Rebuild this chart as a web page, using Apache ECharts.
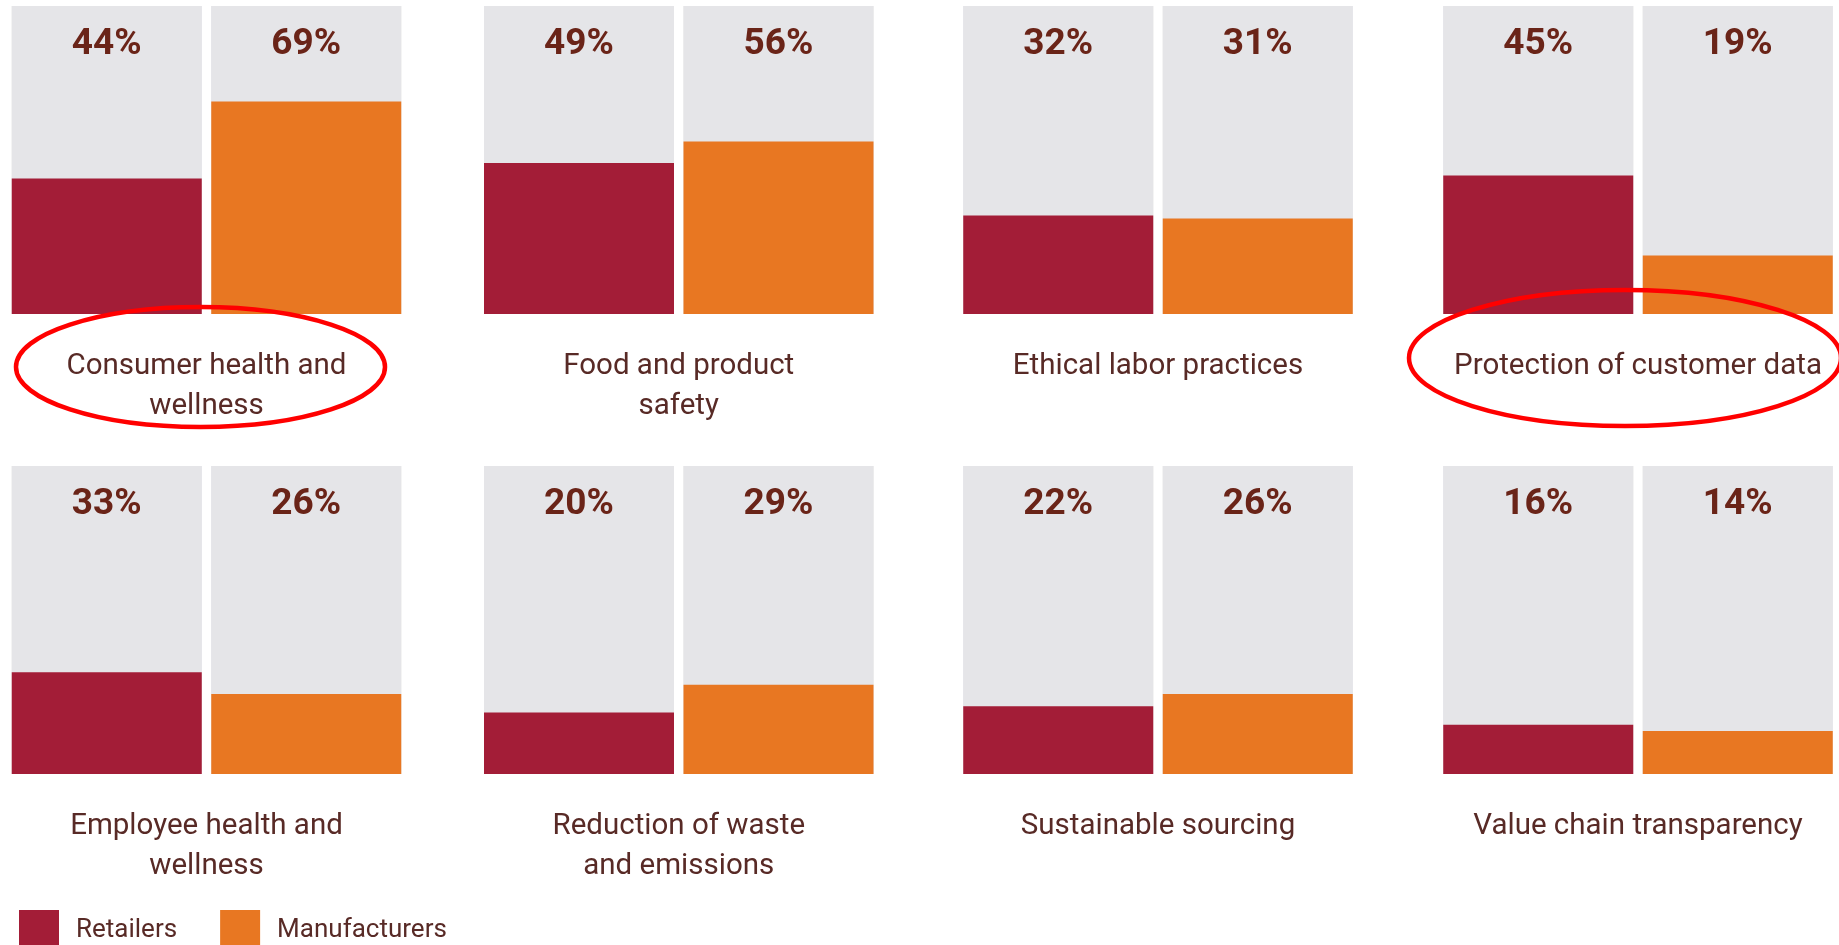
<!DOCTYPE html>
<html>
<head>
<meta charset="utf-8">
<script src="https://cdn.jsdelivr.net/npm/echarts@6/dist/echarts.min.js"></script>
<style>
  html, body { margin: 0; padding: 0; background: #ffffff; }
  #chart { width: 1839px; height: 945px; }
</style>
</head>
<body>
<div id="chart"></div>
<script>
// ---- Data ----
const categories = [
  'Consumer health and\nwellness',
  'Food and product\nsafety',
  'Ethical labor practices',
  'Protection of customer data',
  'Employee health and\nwellness',
  'Reduction of waste\nand emissions',
  'Sustainable sourcing',
  'Value chain transparency'
];
const seriesNames = ['Retailers', 'Manufacturers'];
const retailers = [44, 49, 32, 45, 33, 20, 22, 16];
const manufacturers = [69, 56, 31, 19, 26, 29, 26, 14];

// ---- Styling / layout ----
const RED = '#a31d37';
const ORANGE = '#e87722';
const GRAY = '#e5e5e8';
const PCT_COLOR = '#6a2418';
const TEXT_COLOR = '#582a26';
const colLeft = [7, 479.25, 958.5, 1438.5];
const rowTop = [6, 466];
const gridW = 399, gridH = 308;

const chart = echarts.init(document.getElementById('chart'), null, { renderer: 'canvas' });

const grid = [], xAxis = [], yAxis = [], series = [];
categories.forEach((cat, i) => {
  const col = i % 4, row = Math.floor(i / 4);
  grid.push({ left: colLeft[col], top: rowTop[row], width: gridW, height: gridH, containLabel: false });
  // bottom axis carries the category name
  xAxis.push({
    type: 'category', gridIndex: i, data: seriesNames, position: 'bottom',
    axisLine: { show: false }, axisTick: { show: false }, axisLabel: { show: false },
    name: cat, nameLocation: 'middle', nameGap: 33,
    nameTextStyle: { fontFamily: 'Roboto', fontSize: 29.5, color: TEXT_COLOR, lineHeight: 40, verticalAlign: 'top' }
  });
  // top axis carries the percentage labels
  xAxis.push({
    type: 'category', gridIndex: i, position: 'top', z: 10,
    data: [retailers[i] + '%', manufacturers[i] + '%'],
    axisLine: { show: false }, axisTick: { show: false },
    axisLabel: { inside: true, margin: 20, fontFamily: 'Roboto', fontWeight: 'bold', fontSize: 37, color: PCT_COLOR }
  });
  yAxis.push({ type: 'value', gridIndex: i, min: 0, max: 100, show: false });
  series.push({
    name: seriesNames[0], type: 'bar', xAxisIndex: 2 * i, yAxisIndex: i,
    data: [retailers[i], '-'], barWidth: 190, barGap: '-100%',
    itemStyle: { color: RED }, showBackground: true, backgroundStyle: { color: GRAY },
    animation: false
  });
  series.push({
    name: seriesNames[1], type: 'bar', xAxisIndex: 2 * i, yAxisIndex: i,
    data: ['-', manufacturers[i]], barWidth: 190, barGap: '-100%',
    itemStyle: { color: ORANGE }, showBackground: true, backgroundStyle: { color: GRAY },
    animation: false
  });
});

const option = {
  backgroundColor: '#ffffff',
  animation: false,
  grid, xAxis, yAxis, series,
  legend: {
    data: seriesNames.map((n, k) => ({ name: n, itemStyle: { color: k === 0 ? RED : ORANGE } })),
    left: 19, top: 910, padding: 0,
    icon: 'rect', itemWidth: 40, itemHeight: 40, itemGap: 43,
    selectedMode: false,
    textStyle: { fontFamily: 'Roboto', fontSize: 26, color: TEXT_COLOR, padding: [0, 0, 0, 12] }
  },
  graphic: [
    { type: 'ellipse', shape: { cx: 200.5, cy: 367, rx: 184.5, ry: 60 },
      style: { fill: 'none', stroke: '#ff0000', lineWidth: 4.5 }, z: 100 },
    { type: 'ellipse', shape: { cx: 1625, cy: 358, rx: 216, ry: 68 },
      style: { fill: 'none', stroke: '#ff0000', lineWidth: 4.5 }, z: 100 }
  ]
};
chart.setOption(option);
</script>
</body>
</html>
